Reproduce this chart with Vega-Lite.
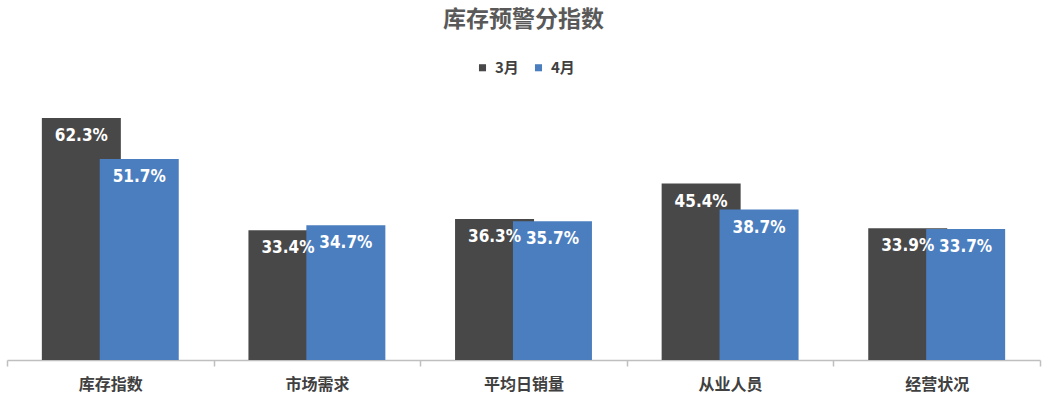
{
  "$schema": "https://vega.github.io/schema/vega-lite/v6.json",
  "width": 1033,
  "height": 272,
  "autosize": {"type": "none"},
  "padding": {"left": 7, "top": 88, "right": 10, "bottom": 44},
  "background": "white",
  "view": {"stroke": null},
  "title": {
    "text": "库存预警分指数",
    "anchor": "middle",
    "font": "Noto Sans CJK SC",
    "fontSize": 23,
    "fontWeight": "bold",
    "color": "#595959",
    "offset": 28
  },
  "data": {
    "values": [
      {"cat": "库存指数", "month": "3月", "value": 0.623},
      {"cat": "库存指数", "month": "4月", "value": 0.517},
      {"cat": "市场需求", "month": "3月", "value": 0.334},
      {"cat": "市场需求", "month": "4月", "value": 0.347},
      {"cat": "平均日销量", "month": "3月", "value": 0.363},
      {"cat": "平均日销量", "month": "4月", "value": 0.357},
      {"cat": "从业人员", "month": "3月", "value": 0.454},
      {"cat": "从业人员", "month": "4月", "value": 0.387},
      {"cat": "经营状况", "month": "3月", "value": 0.339},
      {"cat": "经营状况", "month": "4月", "value": 0.337}
    ]
  },
  "encoding": {
    "x": {
      "field": "cat",
      "type": "nominal",
      "sort": null,
      "scale": {"paddingInner": 0, "paddingOuter": 0},
      "axis": {
        "title": null,
        "labelAngle": 0,
        "labelFont": "Noto Sans CJK SC",
        "labelFontSize": 16,
        "labelFontWeight": "bold",
        "labelColor": "#404040",
        "labelPadding": 10,
        "domainColor": "#bfbfbf",
        "domainWidth": 1.5,
        "tickColor": "#bfbfbf",
        "tickWidth": 1.5,
        "tickSize": 6,
        "tickBand": "extent",
        "grid": false
      }
    },
    "xOffset": {
      "field": "month",
      "type": "nominal",
      "sort": ["3月", "4月"],
      "scale": {"paddingInner": 0, "paddingOuter": 0.784}
    },
    "y": {
      "field": "value",
      "type": "quantitative",
      "scale": {"domain": [0, 0.7], "nice": false},
      "axis": null
    }
  },
  "layer": [
    {
      "mark": {"type": "bar", "width": 79},
      "encoding": {
        "color": {
          "field": "month",
          "type": "nominal",
          "sort": ["3月", "4月"],
          "scale": {"domain": ["3月", "4月"], "range": ["#484848", "#4a7ebf"]},
          "legend": {
            "title": null,
            "orient": "none",
            "direction": "horizontal",
            "legendX": 468,
            "legendY": -28,
            "symbolType": "square",
            "symbolSize": 50,
            "symbolOpacity": 1,
            "labelFont": "Noto Sans CJK SC",
            "labelFontSize": 15,
            "labelFontWeight": "bold",
            "labelColor": "#404040",
            "columnPadding": 12,
            "labelOffset": 5
          }
        }
      }
    },
    {
      "mark": {
        "type": "text",
        "baseline": "top",
        "dy": 10,
        "font": "DejaVu Sans Condensed",
        "fontSize": 17,
        "fontWeight": "bold",
        "color": "white"
      },
      "encoding": {
        "text": {"field": "value", "type": "quantitative", "format": ".1%"},
        "detail": {"field": "month"}
      }
    }
  ]
}
